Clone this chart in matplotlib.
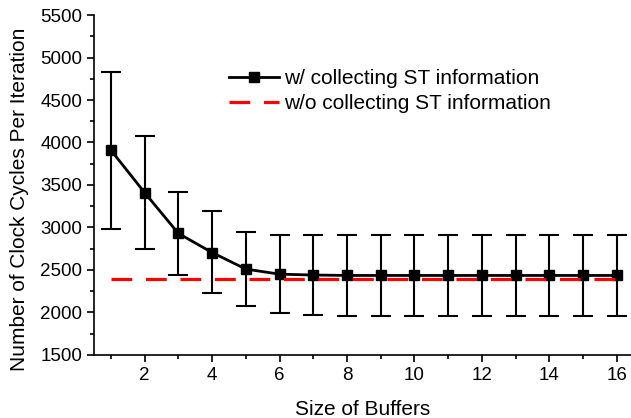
import matplotlib
matplotlib.use("Agg")
import matplotlib.pyplot as plt
from matplotlib.lines import Line2D
from matplotlib.ticker import MultipleLocator

plt.rcParams['font.family'] = ['Liberation Sans', 'DejaVu Sans']

buffers = list(range(1, 17))
cycles = [3910, 3410, 2930, 2705, 2510, 2450, 2440, 2435, 2435, 2435,
          2435, 2435, 2435, 2435, 2435, 2435]
err_top = [4835, 4075, 3420, 3195, 2945, 2910, 2910, 2910, 2910, 2910,
           2910, 2910, 2910, 2910, 2910, 2910]
err_bottom = [2985, 2750, 2440, 2225, 2075, 1995, 1970, 1960, 1960, 1960,
              1960, 1960, 1960, 1960, 1960, 1960]
baseline = 2390

lower = [c - b for c, b in zip(cycles, err_bottom)]
upper = [t - c for c, t in zip(cycles, err_top)]

fig = plt.figure(figsize=(6.31, 4.18), dpi=100)
ax = fig.add_axes([0.149, 0.151, 0.851, 0.813])

ax.errorbar(buffers, cycles, yerr=[lower, upper], color='black', lw=2,
            marker='s', ms=7, elinewidth=1.5, capsize=7, capthick=1.5,
            zorder=3)
ax.plot([buffers[0], buffers[-1]], [baseline, baseline], color='red', lw=2.3,
        ls=(0, (6.5, 4.3)), zorder=4)

ax.set_xlim(0.5, 16.42)
ax.set_ylim(1500, 5500)
ax.xaxis.set_major_locator(MultipleLocator(2))
ax.xaxis.set_minor_locator(MultipleLocator(1))
ax.yaxis.set_major_locator(MultipleLocator(500))
ax.yaxis.set_minor_locator(MultipleLocator(250))
ax.tick_params(which='both', direction='out', labelsize=13.5, width=1.2)
ax.tick_params(which='major', length=5)
ax.tick_params(which='minor', length=3)
for s in ['top', 'right']:
    ax.spines[s].set_visible(False)
for s in ['left', 'bottom']:
    ax.spines[s].set_linewidth(1.2)

ax.set_xlabel('Size of Buffers', fontsize=15, labelpad=12)
ax.set_ylabel('Number of Clock Cycles Per Iteration', fontsize=15)
ax.yaxis.set_label_coords(-0.121, 0.459)

handles = [
    Line2D([], [], color='black', lw=2, marker='s', ms=7),
    Line2D([], [], color='red', lw=2.3, ls=(0, (6.5, 4.3))),
]
labels = ['w/ collecting ST information', 'w/o collecting ST information']
ax.legend(handles, labels, loc='upper left', bbox_to_anchor=(0.235, 0.866),
          frameon=False, fontsize=15, handlelength=2.4, handletextpad=0.25,
          labelspacing=0.3, borderaxespad=0)

fig.savefig('out.png', dpi=100)
